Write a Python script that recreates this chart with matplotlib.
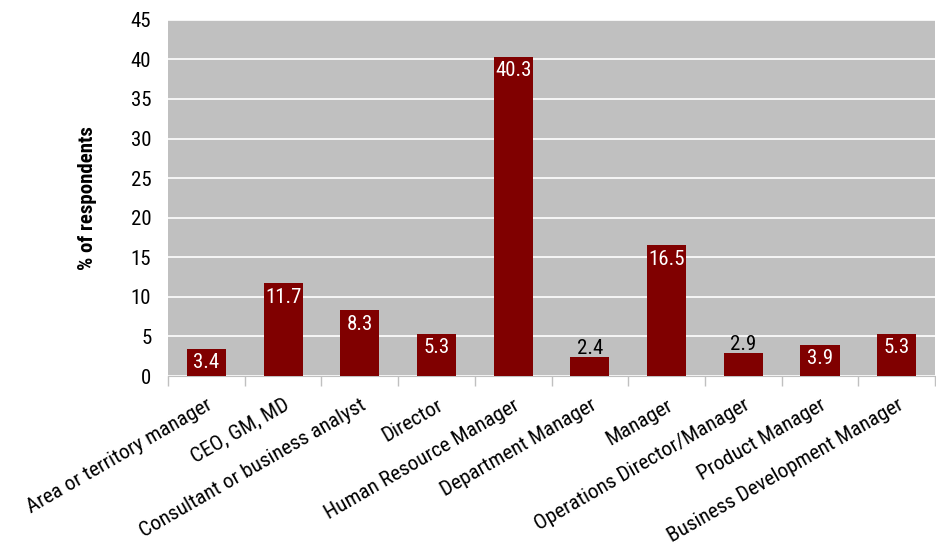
import matplotlib.pyplot as plt

plt.rcParams["font.family"] = ["Roboto Condensed", "Archivo Narrow", "DejaVu Sans"]

roles = ["Area or territory manager", "CEO, GM, MD", "Consultant or business analyst",
         "Director", "Human Resource Manager", "Department Manager", "Manager",
         "Operations Director/Manager", "Product Manager", "Business Development Manager"]
pct = [3.4, 11.7, 8.3, 5.3, 40.3, 2.4, 16.5, 2.9, 3.9, 5.3]

fig = plt.figure(figsize=(9.36, 5.49), dpi=100)
ax = fig.add_axes([0.1795, 0.315, 0.8195, 0.649])
ax.set_facecolor("#C0C0C0")

x = list(range(len(roles)))
ax.bar(x, pct, width=0.51, color="#800000", zorder=3)

for xi, v in zip(x, pct):
    if v >= 3:
        ax.annotate(f"{v}", (xi, v), xytext=(0, -3), textcoords="offset points",
                    ha="center", va="top", color="white", fontsize=15, zorder=4)
    else:
        ax.annotate(f"{v}", (xi, v), xytext=(0, -1), textcoords="offset points",
                    ha="center", va="bottom", color="black", fontsize=15, zorder=4)

ax.set_xlim(-0.5, len(roles) - 0.5)
ax.set_ylim(0, 45)
ax.set_yticks(range(0, 50, 5))
ax.yaxis.grid(True, color="white", linewidth=1.2, zorder=0)
ax.tick_params(axis="y", length=0, labelsize=15, pad=12)

# category labels at bar centres, boundary ticks between categories
ax.set_xticks(x)
ax.set_xticklabels(roles, rotation=30, ha="right", rotation_mode="anchor", fontsize=15.3)
ax.tick_params(axis="x", which="major", length=0, pad=14)
ax.set_xticks([i - 0.5 for i in range(len(roles) + 1)], minor=True)
ax.tick_params(axis="x", which="minor", length=7, color="#C0C0C0", width=1)

for s in ["top", "right", "left"]:
    ax.spines[s].set_visible(False)
ax.spines["bottom"].set_color("#C0C0C0")

ax.set_ylabel("% of respondents", fontsize=15, fontweight="bold", labelpad=24)

fig.savefig("out.png", dpi=100)
